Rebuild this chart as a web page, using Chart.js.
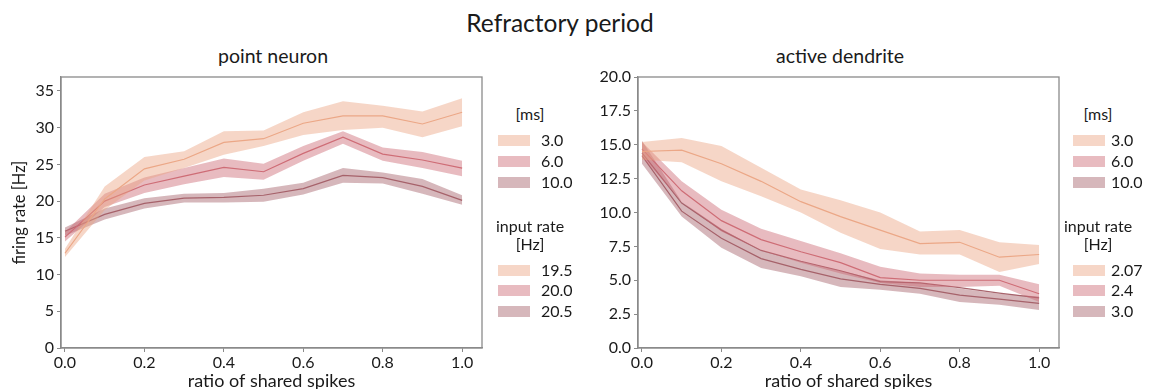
<!DOCTYPE html>
<html>
<head>
<meta charset="utf-8">
<script src="https://cdn.jsdelivr.net/npm/chart.js@4.4.1/dist/chart.umd.min.js"></script>
<style>
  html, body { margin:0; padding:0; background:#fff; overflow:hidden; }
  body { width:1150px; height:389px; position:relative; font-family: Lato, "Open Sans", sans-serif; color:#1a1a1a; }
  .t { position:absolute; white-space:nowrap; transform:translate(-50%,-50%); }
  .lg { position:absolute; white-space:nowrap; font-size:16px; line-height:20px; }
  .patch { position:absolute; width:32px; height:11px; }
  canvas { position:absolute; }
</style>
</head>
<body>
<div class="t" style="left:560px;top:22px;font-size:24.5px;">Refractory period</div>
<div class="t" style="left:273px;top:55px;font-size:19.5px;">point neuron</div>
<div class="t" style="left:840px;top:55px;font-size:19.5px;">active dendrite</div>

<div id="wrapL" style="position:absolute;left:0;top:60px;width:500px;height:340px;"><canvas id="cL"></canvas></div>
<div id="wrapR" style="position:absolute;left:577px;top:60px;width:500px;height:340px;"><canvas id="cR"></canvas></div>
<div id="legends"></div>

<script>
// ---- data ----
const ratio = [0.0, 0.1, 0.2, 0.3, 0.4, 0.5, 0.6, 0.7, 0.8, 0.9, 1.0];
const xTicks = [0.0, 0.2, 0.4, 0.6, 0.8, 1.0];
const yTicksPoint = [0, 5, 10, 15, 20, 25, 30, 35];
const yTicksDend = [0.0, 2.5, 5.0, 7.5, 10.0, 12.5, 15.0, 17.5, 20.0];

const refractoryLabels = ["3.0", "6.0", "10.0"];
const inputRatePoint = ["19.5", "20.0", "20.5"];
const inputRateDend = ["2.07", "2.4", "3.0"];

// point neuron
const pn3_mean = [12.9, 20.3, 24.4, 25.7, 28.0, 28.5, 30.6, 31.6, 31.6, 30.5, 32.1];
const pn3_lo   = [12.4, 18.8, 22.8, 24.5, 26.3, 27.5, 29.0, 29.7, 30.0, 28.7, 30.2];
const pn3_hi   = [13.5, 22.0, 26.0, 26.8, 29.5, 29.6, 32.1, 33.6, 33.0, 32.2, 34.0];
const pn6_mean = [15.1, 20.0, 22.2, 23.4, 24.6, 24.0, 26.5, 28.7, 26.4, 25.6, 24.5];
const pn6_lo   = [14.5, 19.2, 21.1, 22.3, 23.3, 22.9, 25.5, 27.8, 25.5, 24.5, 23.4];
const pn6_hi   = [15.8, 21.0, 23.2, 24.5, 25.8, 25.1, 27.5, 29.5, 27.3, 26.7, 25.5];
const pn10_mean = [15.9, 18.2, 19.7, 20.4, 20.5, 20.8, 21.7, 23.5, 23.2, 22.0, 20.1];
const pn10_lo   = [15.3, 17.5, 19.0, 19.8, 19.8, 19.9, 20.9, 22.5, 22.4, 21.0, 19.5];
const pn10_hi   = [16.4, 19.0, 20.4, 21.0, 21.1, 21.7, 22.5, 24.5, 23.9, 23.0, 20.8];

// active dendrite
const ad3_mean = [14.5, 14.6, 13.6, 12.3, 10.8, 9.7, 8.7, 7.7, 7.8, 6.7, 6.9];
const ad3_lo   = [13.9, 13.7, 12.3, 11.2, 10.0, 8.5, 7.3, 6.9, 6.9, 5.6, 6.2];
const ad3_hi   = [15.2, 15.5, 14.9, 13.3, 11.7, 10.9, 10.0, 8.6, 8.7, 7.8, 7.6];
const ad6_mean = [14.7, 11.6, 9.4, 8.0, 7.1, 6.3, 5.2, 5.0, 5.0, 5.0, 4.0];
const ad6_lo   = [14.1, 10.8, 8.6, 7.2, 6.3, 5.5, 4.8, 4.5, 4.5, 4.6, 3.4];
const ad6_hi   = [15.2, 12.3, 10.2, 8.8, 7.9, 7.0, 6.0, 5.5, 5.4, 5.4, 4.7];
const ad10b_mean = [14.4, 10.7, 8.7, 7.2, 6.4, 5.7, 4.9, 4.8, 4.45, 4.05, 3.7];
const ad10_mean = [14.2, 10.1, 8.1, 6.6, 5.8, 5.1, 4.7, 4.4, 3.9, 3.6, 3.3];
const ad10_lo   = [13.6, 9.7, 7.4, 5.9, 5.3, 4.5, 4.3, 4.0, 3.4, 3.2, 2.8];
const ad10_hi   = [15.3, 10.8, 8.8, 7.2, 6.4, 5.7, 5.0, 4.8, 4.4, 4.0, 3.8];

// ---- styles ----
const lineCols = ["rgb(236,170,138)", "rgb(208,112,120)", "rgb(168,100,108)"];
const fillCols = ["rgba(234,164,130,0.45)", "rgba(205,105,115,0.45)", "rgba(165,95,105,0.45)"];
const FONT = "Lato, 'Open Sans', sans-serif";
const AX = "#8a8a8a";

function pts(arr) { return ratio.map((x, i) => ({x: x, y: arr[i]})); }

function band(hi, lo, mean, k, lineOnly) {
  const ds = [];
  if (!lineOnly) {
    ds.push({ data: pts(hi), borderWidth: 0, pointRadius: 0, fill: '+1', backgroundColor: fillCols[k], tension: 0 });
    ds.push({ data: pts(lo), borderWidth: 0, pointRadius: 0, fill: false, tension: 0 });
  }
  ds.push({ data: pts(mean), borderColor: lineCols[k], borderWidth: 1.2, pointRadius: 0, fill: false, tension: 0 });
  return ds;
}

const framePlugin = {
  id: 'frame',
  afterDraw(chart) {
    const a = chart.chartArea, c = chart.ctx;
    c.save(); c.strokeStyle = AX; c.lineWidth = 1.3;
    c.strokeRect(a.left, a.top, a.right - a.left, a.bottom - a.top);
    c.restore();
  }
};

function makeChart(id, datasets, ymax, yTicks, yFmt, yTitle, padRight) {
  return new Chart(document.getElementById(id), {
    type: 'line',
    data: { datasets: datasets },
    plugins: [framePlugin],
    options: {
      responsive: true, maintainAspectRatio: false, animation: false,
      layout: { padding: { top: 17, right: padRight, left: 0, bottom: 0 } },
      plugins: { legend: { display: false }, tooltip: { enabled: false }, filler: { propagate: false } },
      scales: {
        x: {
          type: 'linear', min: -0.01, max: 1.05,
          afterBuildTicks: s => { s.ticks = xTicks.map(v => ({value: v})); },
          afterFit: s => { s.height = 52; },
          grid: { drawOnChartArea: false, drawTicks: true, tickLength: 4, color: AX },
          border: { display: true, color: AX, width: 1.3 },
          ticks: { color: '#1a1a1a', font: { family: FONT, size: 16 }, padding: 1, maxRotation: 0, callback: v => v.toFixed(1) },
          title: { display: true, text: 'ratio of shared spikes', color: '#1a1a1a', font: { family: FONT, size: 18 }, padding: { top: 0, bottom: 8 } }
        },
        y: {
          type: 'linear', min: 0, max: ymax,
          afterBuildTicks: s => { s.ticks = yTicks.map(v => ({value: v})); },
          afterFit: s => { s.width = 61; },
          grid: { drawOnChartArea: false, drawTicks: true, tickLength: 4, color: AX },
          border: { display: true, color: AX, width: 1.3 },
          ticks: { color: '#1a1a1a', font: { family: FONT, size: 16 }, padding: 3, callback: yFmt },
          title: { display: yTitle !== '', text: yTitle, color: '#1a1a1a', font: { family: FONT, size: 16.5 }, padding: { top: 10, bottom: 0 } }
        }
      }
    }
  });
}

const dsL = [].concat(
  band(pn3_hi, pn3_lo, pn3_mean, 0),
  band(pn6_hi, pn6_lo, pn6_mean, 1),
  band(pn10_hi, pn10_lo, pn10_mean, 2)
);
const dsR = [].concat(
  band(ad3_hi, ad3_lo, ad3_mean, 0),
  band(ad6_hi, ad6_lo, ad6_mean, 1),
  band(ad10_hi, ad10_lo, ad10_mean, 2),
  band(null, null, ad10b_mean, 2, true)
);

makeChart('cL', dsL, 36.9, yTicksPoint, v => String(v), 'firing rate [Hz]', 18);
makeChart('cR', dsR, 20, yTicksDend, v => v.toFixed(1), '', 18);

// ---- legends (HTML) ----
function legend(cx, patchX, textX, rateLabels) {
  let h = '';
  h += `<div class="t" style="left:${cx}px;top:113px;font-size:16px;">[ms]</div>`;
  const y1 = [140, 161, 182];
  refractoryLabels.forEach((l, i) => {
    h += `<div class="patch" style="left:${patchX}px;top:${y1[i]-5}px;background:${fillCols[i]};"></div>`;
    h += `<div class="lg" style="left:${textX}px;top:${y1[i]-10}px;">${l}</div>`;
  });
  h += `<div class="t" style="left:${cx}px;top:225px;font-size:16px;">input rate</div>`;
  h += `<div class="t" style="left:${cx}px;top:243px;font-size:16px;">[Hz]</div>`;
  const y2 = [270, 290, 311];
  rateLabels.forEach((l, i) => {
    h += `<div class="patch" style="left:${patchX}px;top:${y2[i]-5}px;background:${fillCols[i]};"></div>`;
    h += `<div class="lg" style="left:${textX}px;top:${y2[i]-10}px;">${l}</div>`;
  });
  return h;
}
document.getElementById('legends').innerHTML =
  legend(530, 498, 541, inputRatePoint) + legend(1098, 1073, 1111, inputRateDend);
</script>
</body>
</html>
